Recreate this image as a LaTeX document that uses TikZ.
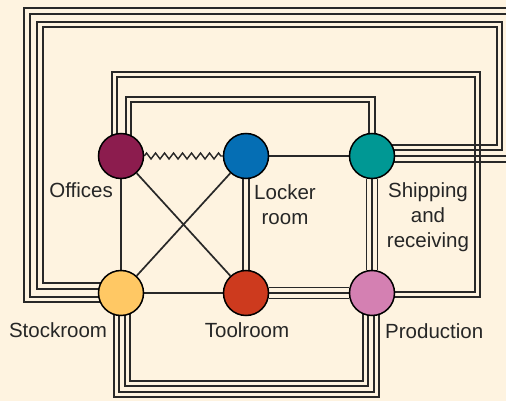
\documentclass[tikz,border=0pt]{standalone}
\usepackage{fontspec}
\setmainfont{Liberation Sans}
\usetikzlibrary{calc,decorations.pathmorphing}
\pgfdeclarelayer{bgl}
\pgfdeclarelayer{lines}
\pgfsetlayers{bgl,lines,main}
\definecolor{bgc}{RGB}{254,243,224}
\definecolor{lc}{RGB}{40,40,40}
\definecolor{coff}{RGB}{140,28,78}
\definecolor{clock}{RGB}{5,110,180}
\definecolor{cship}{RGB}{0,152,148}
\definecolor{cstock}{RGB}{255,200,100}
\definecolor{ctool}{RGB}{205,58,30}
\definecolor{cprod}{RGB}{212,128,178}
\tikzset{
  room/.style={circle, draw=black, line width=1.5pt, minimum size=45pt, inner sep=0pt},
  lbl/.style={font=\fontsize{20.5}{25}\selectfont, inner sep=0pt, text=black!85, align=center},
  ln/.style={draw=lc, line width=1.7pt},
  gapline/.style={draw=bgc},
  zz/.style={draw=lc, line width=1.4pt, decorate, decoration={zigzag, segment length=9pt, amplitude=3pt}}
}
\newcommand\mline[2]{%
  \ifcase#1\or
    \draw[ln] #2;%
  \or
    \draw[lc, line width=7.2pt] #2;%
    \draw[gapline, line width=3.8pt] #2;%
  \or
    \draw[lc, line width=12.7pt] #2;%
    \draw[gapline, line width=9.3pt] #2;%
    \draw[lc, line width=1.7pt] #2;%
  \or
    \draw[lc, line width=18.2pt] #2;%
    \draw[gapline, line width=14.8pt] #2;%
    \draw[lc, line width=7.2pt] #2;%
    \draw[gapline, line width=3.8pt] #2;%
  \fi}
\begin{document}
\begin{tikzpicture}[x=1pt,y=-1pt]
\useasboundingbox (0,0) rectangle (506,401);
\begin{pgfonlayer}{bgl}
  \fill[bgc] (0,0) rectangle (506,401);
\end{pgfonlayer}

\node[room, fill=coff]   (off)   at (121,156) {};
\node[room, fill=clock]  (lock)  at (246,156) {};
\node[room, fill=cship]  (ship)  at (372,156) {};
\node[room, fill=cstock] (stock) at (121,293) {};
\node[room, fill=ctool]  (tool)  at (246,293) {};
\node[room, fill=cprod]  (prod)  at (372,293) {};

\coordinate (aend) at (520,11);
\coordinate (cend) at (520,159);

\node[lbl, anchor=north east] (offl)   at (113,182) {Offices};
\node[lbl, anchor=north]      (lockl)  at (285,184) {Locker\\room};
\node[lbl, anchor=north]      (shipl)  at (428,182) {Shipping\\and\\receiving};
\node[lbl, anchor=north]      (stockl) at (58,322)  {Stockroom};
\node[lbl, anchor=north]      (tooll)  at (247,322) {Toolroom};
\node[lbl, anchor=north west] (prodl)  at (385,323) {Production};

\begin{pgfonlayer}{lines}
  \draw[ln] (off) -- (stock);
  \draw[ln] (off) -- (tool);
  \draw[ln] (lock) -- (stock);
  \draw[ln] (lock) -- (ship);
  \draw[ln] (stock) -- (tool);
  \draw[zz] (off.east) -- (lock.west);
  \mline{2}{(lock) -- (tool)}
  \mline{3}{(ship) -- (prod)}
  \mline{3}{(tool) -- (prod)}
  \mline{4}{($(stock)+(1,0)$) |- ($(prod)+(-1,96)$) -- ($(prod)+(-1,0)$)}
  \mline{2}{($(off)+(7.5,0)$) |- ($(ship)+(0,-56.5)$) -- (ship)}
  \mline{2}{($(stock)+(0,6.5)$) -| (27,11) -- (aend)}
  \mline{2}{($(stock)+(0,-7)$) -| (40,24.5) -| ($(ship)+(127.5,-8.5)$) -- ($(ship)+(0,-8.5)$)}
  \mline{2}{($(ship)+(0,3)$) -- (cend)}
  \draw[ln] ($(off)+(-9.25,0)$) |- (480.25,71.75) |- ($(prod)+(0,4.25)$);
  \draw[ln] ($(off)+(-3.75,0)$) |- (474.75,77.25) |- ($(prod)+(0,-1.25)$);
\end{pgfonlayer}
\end{tikzpicture}
\end{document}
